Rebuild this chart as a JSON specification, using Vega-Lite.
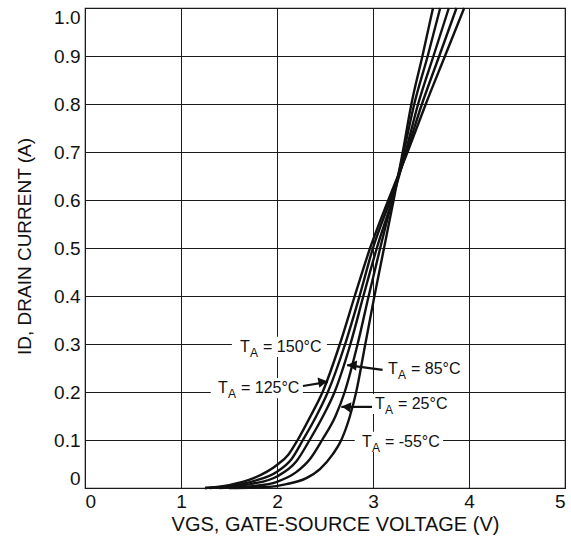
{
  "$schema": "https://vega.github.io/schema/vega-lite/v6.json",
  "width": 480,
  "height": 480,
  "autosize": {"type": "none"},
  "padding": {"left": 85, "top": 8, "right": 6, "bottom": 51},
  "config": {
    "font": "Liberation Sans",
    "view": {"stroke": "#1a1a1a", "strokeWidth": 1.2},
    "axis": {
      "grid": true,
      "gridColor": "#1a1a1a",
      "gridWidth": 1,
      "gridOpacity": 1,
      "domain": false,
      "ticks": false,
      "labelColor": "#111",
      "labelFontSize": 19,
      "titleFontSize": 19,
      "titleFontWeight": "normal",
      "titleColor": "#111",
      "labelFont": "Liberation Sans",
      "titleFont": "Liberation Sans"
    }
  },
  "datasets": {
    "curves": [
      {"t": "150", "v": 1.25, "i": 0}, {"t": "150", "v": 1.5, "i": 0.006}, {"t": "150", "v": 1.75, "i": 0.02}, {"t": "150", "v": 2.0, "i": 0.048}, {"t": "150", "v": 2.12, "i": 0.07}, {"t": "150", "v": 2.215, "i": 0.1}, {"t": "150", "v": 2.35, "i": 0.15}, {"t": "150", "v": 2.475, "i": 0.2}, {"t": "150", "v": 2.655, "i": 0.3}, {"t": "150", "v": 2.81, "i": 0.4}, {"t": "150", "v": 2.97, "i": 0.5}, {"t": "150", "v": 3.16, "i": 0.6}, {"t": "150", "v": 3.36, "i": 0.7}, {"t": "150", "v": 3.55, "i": 0.8}, {"t": "150", "v": 3.75, "i": 0.9}, {"t": "150", "v": 3.95, "i": 1.0},
      {"t": "125", "v": 1.25, "i": 0}, {"t": "125", "v": 1.5, "i": 0.004}, {"t": "125", "v": 1.75, "i": 0.014}, {"t": "125", "v": 2.0, "i": 0.034}, {"t": "125", "v": 2.15, "i": 0.06}, {"t": "125", "v": 2.27, "i": 0.1}, {"t": "125", "v": 2.41, "i": 0.15}, {"t": "125", "v": 2.53, "i": 0.2}, {"t": "125", "v": 2.71, "i": 0.3}, {"t": "125", "v": 2.86, "i": 0.4}, {"t": "125", "v": 3.0, "i": 0.5}, {"t": "125", "v": 3.18, "i": 0.6}, {"t": "125", "v": 3.35, "i": 0.7}, {"t": "125", "v": 3.51, "i": 0.8}, {"t": "125", "v": 3.69, "i": 0.9}, {"t": "125", "v": 3.87, "i": 1.0},
      {"t": "85", "v": 1.3, "i": 0}, {"t": "85", "v": 1.5, "i": 0.003}, {"t": "85", "v": 1.75, "i": 0.009}, {"t": "85", "v": 2.0, "i": 0.024}, {"t": "85", "v": 2.2, "i": 0.055}, {"t": "85", "v": 2.34, "i": 0.1}, {"t": "85", "v": 2.48, "i": 0.15}, {"t": "85", "v": 2.6, "i": 0.2}, {"t": "85", "v": 2.765, "i": 0.3}, {"t": "85", "v": 2.9, "i": 0.4}, {"t": "85", "v": 3.04, "i": 0.5}, {"t": "85", "v": 3.2, "i": 0.6}, {"t": "85", "v": 3.34, "i": 0.7}, {"t": "85", "v": 3.47, "i": 0.8}, {"t": "85", "v": 3.63, "i": 0.9}, {"t": "85", "v": 3.79, "i": 1.0},
      {"t": "25", "v": 1.4, "i": 0}, {"t": "25", "v": 1.75, "i": 0.004}, {"t": "25", "v": 2.0, "i": 0.013}, {"t": "25", "v": 2.2, "i": 0.033}, {"t": "25", "v": 2.35, "i": 0.062}, {"t": "25", "v": 2.47, "i": 0.1}, {"t": "25", "v": 2.61, "i": 0.15}, {"t": "25", "v": 2.705, "i": 0.2}, {"t": "25", "v": 2.84, "i": 0.3}, {"t": "25", "v": 2.955, "i": 0.4}, {"t": "25", "v": 3.075, "i": 0.5}, {"t": "25", "v": 3.2, "i": 0.6}, {"t": "25", "v": 3.32, "i": 0.7}, {"t": "25", "v": 3.43, "i": 0.8}, {"t": "25", "v": 3.57, "i": 0.9}, {"t": "25", "v": 3.7, "i": 1.0},
      {"t": "-55", "v": 1.5, "i": 0}, {"t": "-55", "v": 1.9, "i": 0.002}, {"t": "-55", "v": 2.1, "i": 0.008}, {"t": "-55", "v": 2.3, "i": 0.02}, {"t": "-55", "v": 2.45, "i": 0.04}, {"t": "-55", "v": 2.58, "i": 0.07}, {"t": "-55", "v": 2.67, "i": 0.1}, {"t": "-55", "v": 2.76, "i": 0.15}, {"t": "-55", "v": 2.825, "i": 0.2}, {"t": "-55", "v": 2.92, "i": 0.3}, {"t": "-55", "v": 3.015, "i": 0.4}, {"t": "-55", "v": 3.115, "i": 0.5}, {"t": "-55", "v": 3.215, "i": 0.6}, {"t": "-55", "v": 3.31, "i": 0.7}, {"t": "-55", "v": 3.4, "i": 0.8}, {"t": "-55", "v": 3.515, "i": 0.9}, {"t": "-55", "v": 3.625, "i": 1.0}
    ],
    "labels": [
      {"t": "150", "rest": "= 150°C", "v": 1.615, "i": 0.294, "b1": 1.53, "b2": 2.52, "i1": 0.273, "i2": 0.315},
      {"t": "125", "rest": "= 125°C", "v": 1.385, "i": 0.208, "b1": 1.31, "b2": 2.27, "i1": 0.187, "i2": 0.229},
      {"t": "85", "rest": "= 85°C", "v": 3.156, "i": 0.248, "b1": 3.1, "b2": 3.95, "i1": 0.227, "i2": 0.269},
      {"t": "25", "rest": "= 25°C", "v": 3.02, "i": 0.175, "b1": 2.97, "b2": 3.82, "i1": 0.154, "i2": 0.196},
      {"t": "-55", "rest": "= -55°C", "v": 2.885, "i": 0.096, "b1": 2.81, "b2": 3.73, "i1": 0.075, "i2": 0.117}
    ],
    "arrows": [
      {"t": "125", "v": 2.27, "i": 0.2125, "v2": 2.53, "i2": 0.221},
      {"t": "85", "v": 3.1, "i": 0.246, "v2": 2.73, "i2": 0.256},
      {"t": "25", "v": 2.99, "i": 0.169, "v2": 2.67, "i2": 0.169}
    ]
  },
  "layer": [
    {
      "data": {"name": "labels"},
      "mark": {"type": "rect", "fill": "white"},
      "encoding": {
        "x": {"field": "b1", "type": "quantitative", "scale": {"domain": [0, 5]},
              "axis": {"values": [0, 1, 2, 3, 4, 5], "format": "d", "labelPadding": 4, "labelFlush": true, "title": "VGS, GATE-SOURCE VOLTAGE (V)", "titleFontSize": 20, "titleX": 250, "titleY": 42, "titleBaseline": "alphabetic"}},
        "x2": {"field": "b2"},
        "y": {"field": "i1", "type": "quantitative", "scale": {"domain": [0, 1]},
              "axis": {"values": [0, 0.1, 0.2, 0.3, 0.4, 0.5, 0.6, 0.7, 0.8, 0.9, 1.0], "labelExpr": "datum.value === 0 ? '0' : format(datum.value, '.1f')", "labelFlush": true, "labelPadding": 5, "title": "ID, DRAIN CURRENT (A)", "titleX": -55, "titleY": 238, "titleBaseline": "alphabetic", "titleAngle": -90}},
        "y2": {"field": "i2"}
      }
    },
    {
      "data": {"name": "curves"},
      "mark": {"type": "line", "color": "#111", "strokeWidth": 2.4, "interpolate": "monotone"},
      "encoding": {
        "x": {"field": "v", "type": "quantitative"},
        "y": {"field": "i", "type": "quantitative"},
        "detail": {"field": "t"},
        "order": {"field": "v", "type": "quantitative"}
      }
    },
    {
      "data": {"name": "arrows"},
      "mark": {"type": "rule", "color": "#111", "strokeWidth": 2.2},
      "encoding": {
        "x": {"field": "v", "type": "quantitative"},
        "y": {"field": "i", "type": "quantitative"},
        "x2": {"field": "v2"},
        "y2": {"field": "i2"}
      }
    },
    {
      "data": {"name": "arrows"},
      "transform": [{"filter": "datum.t === '125'"}],
      "mark": {"type": "point", "shape": "triangle-right", "filled": true, "color": "#111", "size": 110, "opacity": 1, "angle": 350, "xOffset": -5},
      "encoding": {
        "x": {"field": "v2", "type": "quantitative"},
        "y": {"field": "i2", "type": "quantitative"}
      }
    },
    {
      "data": {"name": "arrows"},
      "transform": [{"filter": "datum.t !== '125'"}],
      "mark": {"type": "point", "shape": "triangle-left", "filled": true, "color": "#111", "size": 110, "opacity": 1, "angle": 6, "xOffset": 5},
      "encoding": {
        "x": {"field": "v2", "type": "quantitative"},
        "y": {"field": "i2", "type": "quantitative"}
      }
    },
    {
      "data": {"name": "labels"},
      "mark": {"type": "text", "align": "left", "baseline": "middle", "fontSize": 16, "color": "#111"},
      "encoding": {
        "x": {"field": "v", "type": "quantitative"},
        "y": {"field": "i", "type": "quantitative"},
        "text": {"value": "T"}
      }
    },
    {
      "data": {"name": "labels"},
      "mark": {"type": "text", "align": "left", "baseline": "middle", "fontSize": 12, "color": "#111", "dx": 10, "dy": 6},
      "encoding": {
        "x": {"field": "v", "type": "quantitative"},
        "y": {"field": "i", "type": "quantitative"},
        "text": {"value": "A"}
      }
    },
    {
      "data": {"name": "labels"},
      "mark": {"type": "text", "align": "left", "baseline": "middle", "fontSize": 16, "color": "#111", "dx": 23},
      "encoding": {
        "x": {"field": "v", "type": "quantitative"},
        "y": {"field": "i", "type": "quantitative"},
        "text": {"field": "rest"}
      }
    }
  ]
}
